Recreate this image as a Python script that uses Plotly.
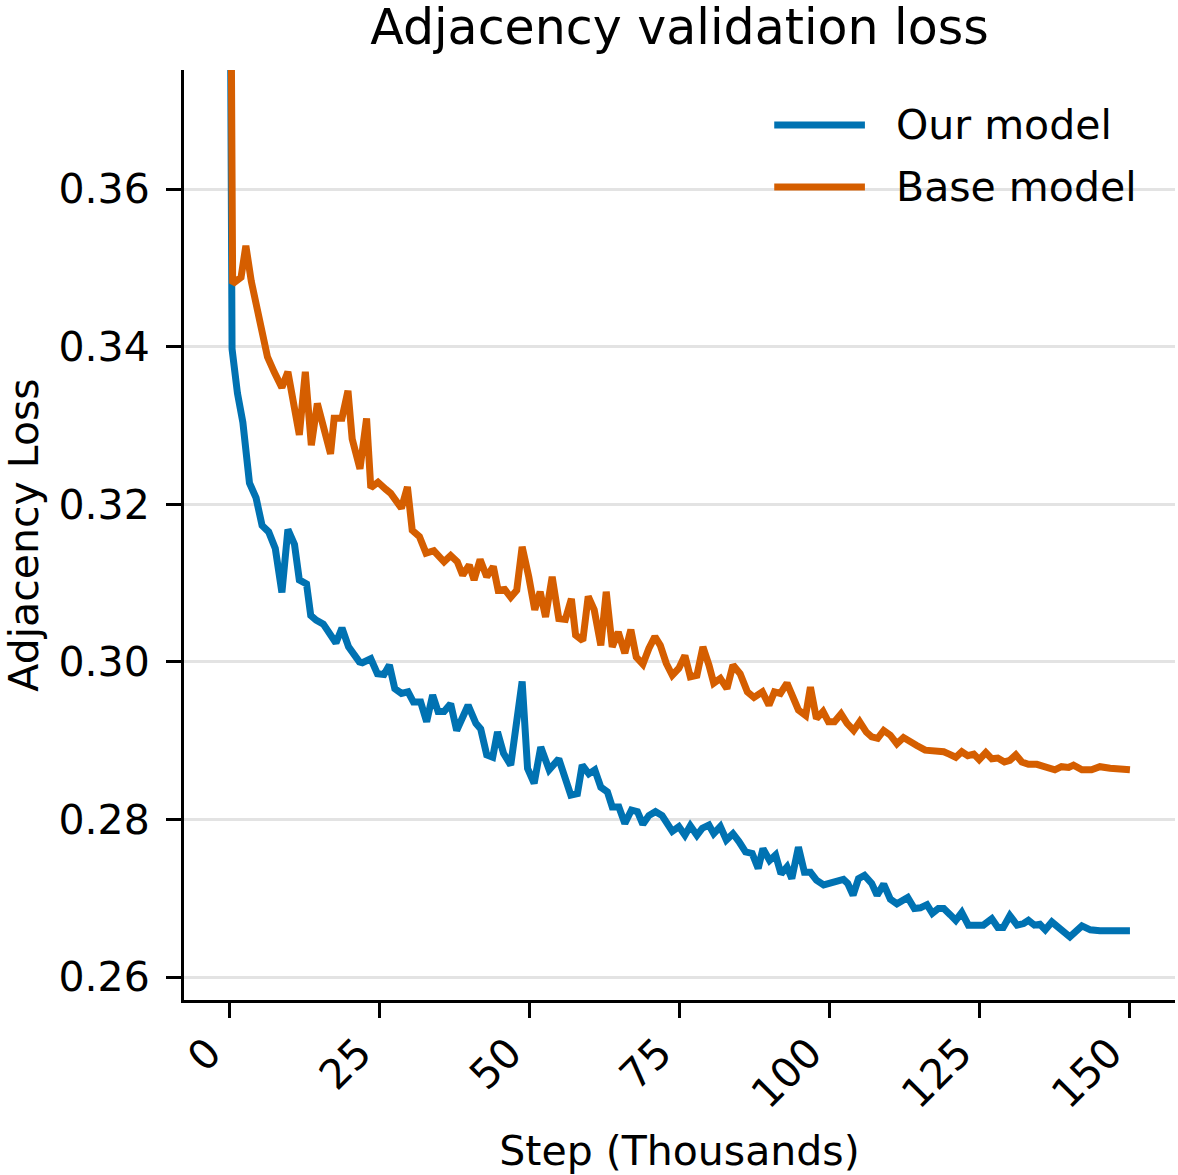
import plotly.graph_objects as go

# ---------------- data ----------------
series_names = ["Our model", "Base model"]
series_colors = ["#0072B2", "#D55E00"]

our_steps = [0, 0.5, 1.4, 2.3, 3.4, 4.5, 5.5, 6.6, 7.7, 8.8, 9.8, 10.9, 11.7, 12.9, 13.6, 14.5,
             15.7, 16.7, 17.8, 18.8, 19.9, 21.7, 22.2, 23.6, 24.7, 25.8, 26.7, 27.6, 28.7, 29.8,
             30.7, 31.9, 32.9, 33.9, 34.8, 35.8, 36.9, 37.9, 38.9, 39.8, 41.1, 41.9, 42.9, 43.9,
             44.7, 45.7, 46.9, 47.7, 48.8, 49.7, 50.8, 51.9, 53.3, 54.9, 55.9, 56.9, 58.0, 58.8,
             59.9, 60.9, 61.9, 63.0, 63.8, 64.9, 65.9, 67.0, 68.0, 68.9, 69.9, 71.0, 72.1, 73.0,
             73.8, 74.9, 75.9, 76.8, 77.9, 78.8, 79.9, 80.7, 81.8, 82.8, 83.9, 84.9, 86.0, 87.1,
             88.1, 88.9, 90.0, 91.0, 91.9, 92.9, 93.7, 94.8, 95.8, 96.8, 97.8, 99.0, 100.1, 101.2,
             102.3, 103.0, 103.9, 104.8, 105.8, 107.0, 107.9, 109.0, 110.1, 111.2, 112.0, 113.0,
             114.1, 115.1, 116.2, 117.1, 118.1, 119.0, 120.1, 121.0, 122.0, 123.1, 124.2, 125.6,
             127.0, 128.0, 128.9, 130.0, 131.2, 132.3, 133.1, 134.1, 135.0, 135.9, 137.0, 138.4,
             140.0, 142.0, 143.4, 145.0, 150.0]
our_loss = [0.420, 0.3397, 0.3341, 0.3304, 0.3227, 0.3208, 0.3173, 0.3165, 0.3144, 0.3088, 0.3168,
            0.3149, 0.3104, 0.3099, 0.3059, 0.3053, 0.3048, 0.3037, 0.3024, 0.3043, 0.3019, 0.3000,
            0.2999, 0.3004, 0.2985, 0.2984, 0.2996, 0.2966, 0.2960, 0.2962, 0.2949, 0.2949, 0.2924,
            0.2958, 0.2937, 0.2937, 0.2947, 0.2913, 0.2932, 0.2945, 0.2922, 0.2915, 0.2882, 0.2879,
            0.2911, 0.2884, 0.2869, 0.2909, 0.2975, 0.2865, 0.2846, 0.2892, 0.2863, 0.2877, 0.2850,
            0.2831, 0.2833, 0.2869, 0.2858, 0.2863, 0.2841, 0.2835, 0.2816, 0.2816, 0.2795, 0.2812,
            0.2810, 0.2794, 0.2805, 0.2810, 0.2805, 0.2795, 0.2785, 0.2791, 0.2780, 0.2792, 0.2780,
            0.2789, 0.2793, 0.2782, 0.2791, 0.2774, 0.2782, 0.2772, 0.2759, 0.2757, 0.2738, 0.2763,
            0.2748, 0.2755, 0.2731, 0.2740, 0.2725, 0.2765, 0.2733, 0.2733, 0.2723, 0.2717, 0.2719,
            0.2723, 0.2724, 0.2719, 0.2704, 0.2725, 0.2729, 0.2719, 0.2704, 0.2718, 0.2699, 0.2693,
            0.2697, 0.2701, 0.2687, 0.2688, 0.2692, 0.2681, 0.2687, 0.2687, 0.2679, 0.2672, 0.2682,
            0.2666, 0.2666, 0.2666, 0.2674, 0.2663, 0.2663, 0.2678, 0.2666, 0.2668, 0.2672, 0.2666,
            0.2667, 0.2660, 0.2670, 0.2662, 0.2651, 0.2665, 0.2660, 0.2659, 0.2659]

base_steps = [0, 0.6, 2.0, 2.8, 3.7, 4.8, 6.4, 7.5, 8.8, 9.8, 11.7, 12.7, 13.7, 14.7, 16.9, 17.5,
              18.8, 19.8, 20.5, 21.8, 22.9, 23.6, 24.8, 26.1, 26.9, 28.7, 29.7, 30.5, 31.7, 32.8,
              34.1, 35.8, 36.9, 38.0, 38.9, 40.0, 40.8, 41.8, 42.9, 44.0, 44.8, 45.9, 46.9, 47.9,
              48.8, 49.9, 50.9, 51.8, 52.7, 53.8, 54.9, 56.0, 57.0, 57.7, 58.9, 59.8, 60.8, 61.9,
              62.8, 63.8, 64.8, 65.9, 66.9, 67.8, 68.9, 69.9, 70.9, 71.8, 72.8, 73.8, 74.9, 75.9,
              76.8, 77.9, 78.9, 79.9, 80.7, 81.8, 82.9, 83.9, 85.1, 86.3, 87.4, 88.8, 89.9, 90.8,
              91.8, 92.9, 94.0, 94.8, 96.0, 96.8, 97.8, 98.9, 99.8, 100.8, 101.9, 102.9, 104.0,
              105.0, 106.1, 107.0, 108.0, 109.0, 110.1, 111.2, 112.3, 113.4, 114.5, 115.9, 117.6,
              119.0, 119.9, 121.0, 122.0, 123.0, 124.0, 124.9, 126.0, 127.0, 128.0, 129.1, 130.0,
              131.0, 132.0, 133.1, 134.5, 135.6, 137.5, 138.6, 139.8, 140.6, 142.0, 143.6, 145.0,
              146.7, 148.3, 150.0]
base_loss = [0.430, 0.3480, 0.3488, 0.3528, 0.3483, 0.3443, 0.3387, 0.3368, 0.3348, 0.3368, 0.3288,
             0.3368, 0.3275, 0.3328, 0.3264, 0.3309, 0.3309, 0.3344, 0.3283, 0.3245, 0.3309, 0.3221,
             0.3228, 0.3219, 0.3214, 0.3195, 0.3222, 0.3167, 0.3159, 0.3138, 0.3141, 0.3127, 0.3135,
             0.3127, 0.3110, 0.3123, 0.3104, 0.3130, 0.3108, 0.3121, 0.3091, 0.3092, 0.3082, 0.3091,
             0.3146, 0.3108, 0.3066, 0.3089, 0.3057, 0.3108, 0.3055, 0.3054, 0.3080, 0.3034, 0.3027,
             0.3083, 0.3066, 0.3021, 0.3089, 0.3019, 0.3038, 0.3011, 0.3041, 0.3006, 0.2997, 0.3017,
             0.3032, 0.3021, 0.2998, 0.2983, 0.2992, 0.3008, 0.2981, 0.2983, 0.3019, 0.2996, 0.2973,
             0.2979, 0.2966, 0.2996, 0.2985, 0.2962, 0.2955, 0.2962, 0.2945, 0.2962, 0.2960, 0.2973,
             0.2953, 0.2939, 0.2932, 0.2968, 0.2928, 0.2937, 0.2924, 0.2924, 0.2934, 0.2922, 0.2913,
             0.2924, 0.2911, 0.2905, 0.2903, 0.2913, 0.2907, 0.2896, 0.2904, 0.2900, 0.2894, 0.2888,
             0.2888, 0.2886, 0.2883, 0.2879, 0.2886, 0.2881, 0.2883, 0.2876, 0.2885, 0.2877, 0.2878,
             0.2873, 0.2875, 0.2882, 0.2873, 0.2870, 0.2870, 0.2867, 0.2863, 0.2867, 0.2866, 0.2869,
             0.2863, 0.2863, 0.2867, 0.2865, 0.2863, 0.2863]

x_ticks = [0, 25, 50, 75, 100, 125, 150]
y_ticks = [0.26, 0.28, 0.30, 0.32, 0.34, 0.36]

title_text = "Adjacency validation loss"
x_title = "Step (Thousands)"
y_title = "Adjacency Loss"

# ---------------- figure ----------------
FONT = "DejaVu Sans"
LW = 7
fig = go.Figure()
for steps, loss, name, color in [(our_steps, our_loss, series_names[0], series_colors[0]),
                                 (base_steps, base_loss, series_names[1], series_colors[1])]:
    fig.add_trace(go.Scatter(x=steps, y=loss, mode="lines", name=name,
                             line=dict(color=color, width=LW), showlegend=False))

# manual legend (long handles like the original)
legend_rows_y = [0.9409, 0.8742]
for name, color, yy in zip(series_names, series_colors, legend_rows_y):
    fig.add_shape(type="line", xref="paper", yref="paper", x0=0.5956, x1=0.6871, y0=yy, y1=yy,
                  line=dict(color=color, width=LW))
    fig.add_annotation(xref="paper", yref="paper", x=0.7163, y=yy, text=name, showarrow=False,
                       xanchor="left", yanchor="middle", font=dict(family=FONT, size=41, color="black"))

fig.update_layout(
    width=1178, height=1175,
    margin=dict(l=181, r=3, t=70, b=175, pad=0),
    paper_bgcolor="white", plot_bgcolor="white",
    font=dict(family=FONT, size=41, color="black"),
    title=dict(text=title_text, x=0.5, xref="paper", xanchor="center",
               y=1 - 27 / 1175, yref="container", yanchor="middle",
               font=dict(family=FONT, size=49, color="black")),
)
fig.update_xaxes(
    range=[-7.5, 157.5], tickvals=x_ticks, ticktext=[str(t) for t in x_ticks],
    showgrid=False, zeroline=False, showline=True, linecolor="black", linewidth=3,
    ticks="outside", ticklen=15, tickwidth=3, tickcolor="black", tickangle=-45,
    ticklabelshift=-20, ticklabelstandoff=-6,
    tickfont=dict(family=FONT, size=41, color="black"),
    title=dict(text=x_title, font=dict(family=FONT, size=41, color="black"), standoff=20),
)
fig.update_yaxes(
    range=[0.2571, 0.3751], tickvals=y_ticks, tickformat=".2f",
    showgrid=True, gridcolor="#e3e3e3", gridwidth=2.5, zeroline=False,
    showline=True, linecolor="black", linewidth=3,
    ticks="outside", ticklen=15, tickwidth=3, tickcolor="black",
    ticklabelstandoff=8,
    tickfont=dict(family=FONT, size=41, color="black"),
    title=dict(text=y_title, font=dict(family=FONT, size=41, color="black"), standoff=27),
)

fig.write_html("out.html")
